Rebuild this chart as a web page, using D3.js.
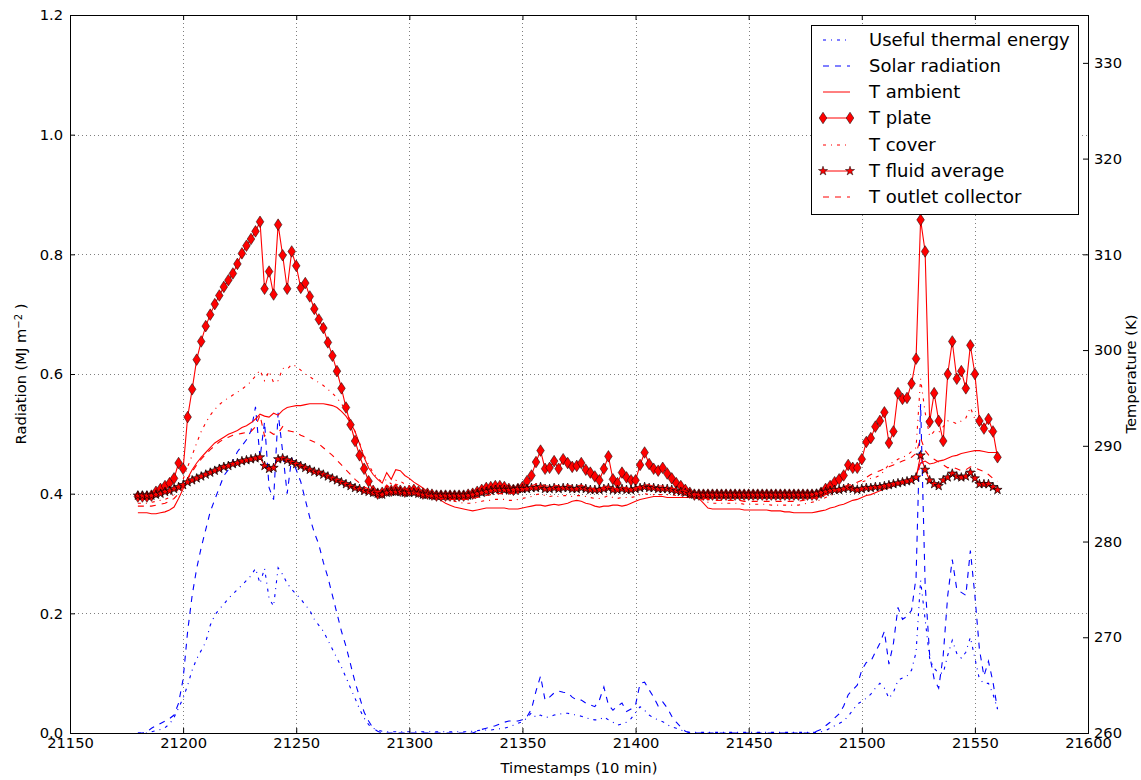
<!DOCTYPE html>
<html>
<head>
<meta charset="utf-8">
<script src="https://cdn.jsdelivr.net/npm/d3@7"></script>
<style>
  body { margin: 0; background: #fff; }
  svg text { font-family: "DejaVu Sans", sans-serif; fill: #000; }
</style>
</head>
<body>
<svg id="chart" width="1141" height="780"></svg>
<script>
// Sampling instants (10-minute timestamps, every second sample)
const timestamps = d3.range(21180, 21561, 2);

// Left axis series (MJ m-2)
const usefulEnergy = [
  0, 0, 0, 0.002, 0.004, 0.006, 0.009, 0.015, 0.026, 0.042,
  0.058, 0.08, 0.105, 0.124, 0.138, 0.152, 0.18, 0.197, 0.207, 0.215,
  0.225, 0.232, 0.24, 0.247, 0.255, 0.263, 0.275, 0.25, 0.275, 0.225,
  0.212, 0.276, 0.265, 0.25, 0.24, 0.232, 0.224, 0.214, 0.205, 0.19,
  0.18, 0.17, 0.155, 0.14, 0.125, 0.11, 0.093, 0.075, 0.058, 0.04,
  0.025, 0.014, 0.008, 0.005, 0.003, 0.002, 0.002, 0.002, 0.002, 0.002,
  0.002, 0.002, 0.002, 0.002, 0.002, 0.002, 0.002, 0.002, 0.002, 0.002,
  0.002, 0.002, 0.002, 0.002, 0.003, 0.004, 0.005, 0.005, 0.005, 0.006,
  0.007, 0.008, 0.01, 0.013, 0.016, 0.019, 0.025, 0.034, 0.026, 0.03,
  0.026, 0.027, 0.03, 0.031, 0.033, 0.033, 0.031, 0.03, 0.028, 0.026,
  0.023, 0.022, 0.022, 0.027, 0.022, 0.018, 0.013, 0.015, 0.018, 0.024,
  0.034, 0.044, 0.038, 0.03, 0.025, 0.022, 0.019, 0.014, 0.01, 0.008,
  0.005, 0.003, 0.001, 0.001, 0.001, 0.001, 0.001, 0.001, 0.001, 0.001,
  0.001, 0.001, 0.001, 0.001, 0.001, 0.001, 0.001, 0.001, 0.001, 0.001,
  0.001, 0.001, 0.001, 0.001, 0.001, 0.001, 0.001, 0.001, 0.001, 0.001,
  0.001, 0.002, 0.004, 0.008, 0.012, 0.016, 0.02, 0.028, 0.038, 0.048,
  0.053, 0.058, 0.065, 0.075, 0.083, 0.075, 0.058, 0.068, 0.088, 0.092,
  0.095, 0.105, 0.135, 0.255, 0.19, 0.125, 0.108, 0.1, 0.1, 0.13,
  0.155, 0.133, 0.125, 0.135, 0.16, 0.125, 0.09, 0.083, 0.083, 0.065,
  0.04
];

const solarRadiation = [
  0, 0, 0.002, 0.008, 0.012, 0.016, 0.02, 0.024, 0.03, 0.05,
  0.09, 0.17, 0.23, 0.275, 0.31, 0.34, 0.37, 0.39, 0.41, 0.43,
  0.44, 0.455, 0.47, 0.48, 0.49, 0.505, 0.545, 0.46, 0.52, 0.41,
  0.39, 0.535, 0.47, 0.40, 0.46, 0.44, 0.42, 0.39, 0.36, 0.335,
  0.315, 0.285, 0.26, 0.23, 0.20, 0.17, 0.145, 0.115, 0.085, 0.06,
  0.035, 0.02, 0.008, 0.003, 0, 0, 0, 0, 0, 0,
  0, 0, 0, 0, 0, 0, 0, 0, 0, 0,
  0, 0, 0, 0, 0, 0.003, 0.006, 0.008, 0.01, 0.012,
  0.015, 0.018, 0.02, 0.02, 0.02, 0.022, 0.027, 0.04, 0.07, 0.095,
  0.055, 0.06, 0.067, 0.07, 0.068, 0.067, 0.06, 0.055, 0.055, 0.05,
  0.047, 0.044, 0.055, 0.077, 0.047, 0.038, 0.045, 0.05, 0.036, 0.04,
  0.047, 0.083, 0.085, 0.072, 0.06, 0.045, 0.052, 0.042, 0.028, 0.018,
  0.01, 0.003, 0, 0, 0, 0, 0, 0, 0, 0,
  0, 0, 0, 0, 0, 0, 0, 0, 0, 0,
  0, 0, 0, 0, 0, 0, 0, 0, 0, 0,
  0.003, 0.006, 0.012, 0.018, 0.025, 0.032, 0.045, 0.064, 0.072, 0.08,
  0.105, 0.118, 0.12, 0.135, 0.15, 0.17, 0.115, 0.15, 0.21, 0.19,
  0.195, 0.205, 0.26, 0.55, 0.25, 0.13, 0.09, 0.075, 0.13, 0.23,
  0.29, 0.24, 0.235, 0.23, 0.305, 0.23, 0.14, 0.095, 0.12, 0.085,
  0.04
];

// Right axis series (K)
const tAmbient = [
  283.0, 283.0, 283.0, 282.9, 282.9, 283.0, 283.1, 283.3, 283.6, 284.5,
  285.5, 286.6, 287.5, 288.2, 288.8, 289.3, 289.8, 290.3, 290.6, 290.9,
  291.2, 291.4, 291.6, 291.9, 292.1, 292.4, 292.8, 293.3, 293.1, 293.0,
  293.4, 293.2, 293.7, 294.0, 294.1, 294.2, 294.2, 294.3, 294.4, 294.4,
  294.4, 294.4, 294.3, 294.2, 294.0, 293.6, 293.1, 292.4, 291.5, 290.2,
  288.8, 287.7, 287.0, 286.5, 286.1, 287.2, 286.5, 287.5, 287.4, 286.9,
  286.6, 286.2, 285.9, 285.6, 285.2, 284.9, 284.6, 284.3, 284.0, 283.8,
  283.6, 283.5, 283.4, 283.3, 283.2, 283.3, 283.4, 283.5, 283.5, 283.5,
  283.5, 283.5, 283.4, 283.4, 283.4, 283.5, 283.6, 283.7, 283.8, 283.8,
  283.7, 283.8, 283.9, 283.8, 283.9, 284.0, 284.2, 284.3, 284.2, 284.0,
  283.9, 283.7, 283.6, 283.7, 283.7, 283.8, 283.8, 283.7, 283.8, 284.0,
  284.2, 284.4, 284.5, 284.6, 284.7, 284.7, 284.7, 284.6, 284.6, 284.6,
  284.6, 284.6, 284.6, 284.6, 284.5, 284.0, 283.5, 283.4, 283.4, 283.4,
  283.4, 283.4, 283.4, 283.4, 283.3, 283.3, 283.3, 283.3, 283.3, 283.3,
  283.2, 283.2, 283.2, 283.1, 283.1, 283.0, 283.0, 283.0, 283.0, 283.0,
  283.1, 283.2, 283.3, 283.5, 283.6, 283.8, 283.9, 284.1, 284.3, 284.4,
  284.6, 284.8, 284.9, 285.1, 285.3, 285.5, 285.6, 285.8, 286.0, 286.2,
  286.4, 286.6, 286.9, 288.2, 288.4, 288.1, 288.2, 288.4, 288.5, 288.7,
  288.9, 289.0, 289.2, 289.3, 289.4, 289.5, 289.5, 289.4, 289.3, 289.3,
  289.3
];

const tPlate = [
  284.7, 284.7, 284.7, 284.8, 285.2, 285.5, 285.8, 286.1, 286.6, 288.2,
  287.6, 293.0, 295.9, 299.0, 300.9, 302.5, 303.7, 304.8, 305.7, 306.6,
  307.3, 308.0, 309.0, 310.1, 310.9, 311.6, 312.4, 313.4, 306.4, 308.2,
  305.8, 313.1, 309.9, 306.4, 310.3, 308.8, 306.5, 307.0, 305.6, 304.3,
  303.2, 302.3, 300.8, 299.4, 297.8, 296.0, 294.0, 292.2, 290.5, 289.0,
  287.6, 286.3, 285.3, 285.0, 285.1, 285.3, 285.3, 285.4, 285.3, 285.2,
  285.3, 285.4, 285.2, 285.0, 285.0, 284.9, 284.8, 284.8, 284.8, 284.8,
  284.8, 284.8, 284.8, 284.9, 285.0, 285.2, 285.4, 285.6, 285.7, 285.8,
  285.8, 285.7, 285.5, 285.4, 285.5, 285.7, 286.3, 286.9, 288.3, 289.5,
  287.6, 287.7, 288.4, 287.6, 288.6, 288.2, 287.8, 287.9, 288.2, 287.5,
  287.2, 286.8, 286.4, 287.6, 288.9, 286.5, 286.1, 287.2, 286.7, 286.4,
  286.4, 288.0, 289.3, 288.1, 287.6, 287.4, 287.7, 287.1, 286.6, 286.1,
  285.8, 285.4, 285.1, 284.9, 284.9, 284.9, 284.9, 284.9, 284.9, 284.9,
  284.9, 284.9, 284.9, 284.9, 284.9, 284.9, 284.9, 284.9, 284.9, 284.9,
  284.9, 284.9, 284.9, 284.9, 284.9, 284.9, 284.9, 284.9, 284.9, 284.9,
  284.9, 285.1, 285.5, 285.8, 286.2, 286.5, 286.9, 288.0, 287.7, 287.7,
  288.6, 290.4, 290.8, 292.0, 292.6, 293.5, 290.3, 291.5, 295.5, 294.9,
  295.0, 296.5, 299.1, 313.6, 310.3, 292.5, 295.5, 292.6, 290.5, 297.5,
  300.9, 297.0, 297.8, 296.0, 300.5, 297.5, 292.6, 291.8, 292.8, 291.5,
  288.8
];

const tCover = [
  284.0, 284.0, 284.0, 284.1, 284.2, 284.3, 284.4, 284.6, 284.9, 285.5,
  286.5, 287.8, 289.0, 290.3, 291.5, 292.4, 293.2, 293.8, 294.3, 294.7,
  295.0, 295.3, 295.6, 295.9, 296.3, 296.7, 297.3, 297.9, 296.8, 297.8,
  296.6, 296.8, 298.1, 298.0, 298.5, 298.3, 297.9, 297.5, 297.2, 296.9,
  296.6, 296.3, 295.9, 295.5, 295.0, 294.4, 293.6, 292.6, 291.5, 290.3,
  289.0, 288.0, 287.2, 286.6, 286.2, 286.5, 286.0, 286.4, 286.3, 286.0,
  285.8, 285.6, 285.4, 285.2, 285.0, 284.9, 284.7, 284.5, 284.4, 284.3,
  284.2, 284.1, 284.0, 284.0, 284.0, 284.1, 284.2, 284.3, 284.3, 284.4,
  284.4, 284.4, 284.3, 284.3, 284.4, 284.5, 284.6, 284.7, 284.9, 285.0,
  284.8, 284.7, 284.8, 284.7, 284.8, 284.8, 284.7, 284.8, 284.8, 284.7,
  284.6, 284.5, 284.5, 284.6, 284.8, 284.6, 284.5, 284.6, 284.6, 284.6,
  284.7, 284.9, 285.0, 284.9, 284.9, 284.9, 284.9, 284.9, 284.9, 284.8,
  284.8, 284.8, 284.7, 284.7, 284.6, 284.3, 284.1, 284.0, 284.0, 284.0,
  284.0, 284.0, 284.0, 284.0, 283.9, 283.9, 283.9, 283.9, 283.9, 283.9,
  283.8, 283.8, 283.8, 283.8, 283.8, 283.8, 283.8, 283.9, 284.0, 284.1,
  284.2, 284.4, 284.6, 284.8, 285.0, 285.2, 285.4, 285.7, 285.9, 286.0,
  286.2, 286.4, 286.6, 286.7, 286.9, 287.4, 288.1, 288.3, 288.6, 288.8,
  289.0, 289.4, 289.8, 297.0, 293.5, 291.0, 291.5, 291.4, 292.0, 292.6,
  292.5, 292.3, 292.6, 292.9, 294.0, 292.8, 292.3, 291.9, 291.6, 291.0,
  290.5
];

const tFluid = [
  284.8, 284.8, 284.8, 284.8, 284.9, 285.0, 285.2, 285.3, 285.5, 285.7,
  285.9, 286.2, 286.4, 286.6, 286.8, 287.0, 287.2, 287.4, 287.6, 287.8,
  287.9, 288.1, 288.2, 288.4, 288.5, 288.6, 288.7, 288.8, 287.9, 287.6,
  287.7, 288.6, 288.7, 288.5, 288.3, 288.1, 287.9, 287.7, 287.5, 287.3,
  287.2, 287.0, 286.8, 286.6, 286.4, 286.2, 286.0, 285.8, 285.6, 285.5,
  285.3, 285.2, 285.1, 285.0, 284.9, 285.1, 285.2, 285.2, 285.2, 285.1,
  285.1, 285.1, 285.0, 284.9, 284.9, 284.8, 284.8, 284.8, 284.8, 284.8,
  284.8, 284.8, 284.8, 284.8, 284.9, 285.0, 285.1, 285.2, 285.3, 285.4,
  285.4, 285.4, 285.4, 285.4, 285.5, 285.5, 285.5, 285.6, 285.6, 285.7,
  285.5, 285.5, 285.6, 285.5, 285.6, 285.6, 285.5, 285.5, 285.6, 285.5,
  285.4, 285.4, 285.4, 285.5, 285.6, 285.4, 285.4, 285.5, 285.4, 285.4,
  285.5, 285.6, 285.7, 285.6, 285.6, 285.5, 285.5, 285.5, 285.4, 285.3,
  285.2, 285.1, 285.0, 284.9, 284.9, 284.9, 284.9, 284.9, 284.9, 284.9,
  284.9, 284.9, 284.9, 284.9, 284.9, 284.9, 284.9, 284.9, 284.9, 284.9,
  284.9, 284.9, 284.9, 284.9, 284.9, 284.9, 284.9, 284.9, 284.9, 284.9,
  285.0, 285.1, 285.2, 285.3, 285.4, 285.4, 285.5, 285.6, 285.5, 285.4,
  285.5, 285.6, 285.6, 285.7, 285.7, 285.8, 285.9, 286.0, 286.1, 286.2,
  286.3, 286.4, 286.7, 289.0, 287.5, 286.4, 286.0, 285.8, 286.4, 286.7,
  287.1, 286.8, 286.7, 286.8, 287.2, 286.6, 286.0, 286.0, 286.0, 285.7,
  285.4
];

const tOutlet = [
  283.7, 283.7, 283.7, 283.7, 283.8, 283.9, 284.0, 284.2, 284.5, 285.0,
  285.7, 286.5, 287.3, 288.0, 288.6, 289.1, 289.6, 290.0, 290.4, 290.7,
  290.9, 291.1, 291.2, 291.3, 291.4, 291.5, 292.0, 293.2, 291.0, 291.5,
  291.2, 291.3, 292.0, 291.6, 291.5, 291.4, 291.1, 290.9, 290.6, 290.4,
  290.2, 289.8, 289.4, 289.0, 288.5, 288.0, 287.5, 287.0, 286.5, 286.1,
  285.7, 285.5, 285.3, 285.2, 285.3, 285.9, 285.5, 286.0, 285.8, 285.5,
  285.3, 285.1, 285.0, 284.9, 284.8, 284.7, 284.6, 284.5, 284.5, 284.4,
  284.4, 284.4, 284.4, 284.4, 284.5, 284.6, 284.7, 284.8, 284.9, 285.0,
  285.0, 285.0, 285.0, 285.1, 285.2, 285.4, 285.6, 285.8, 286.0, 286.1,
  285.8, 285.8, 285.9, 285.8, 285.9, 285.9, 285.8, 285.8, 285.9, 285.7,
  285.6, 285.5, 285.5, 285.7, 285.9, 285.6, 285.5, 285.6, 285.6, 285.5,
  285.6, 285.8, 286.0, 285.9, 285.8, 285.8, 285.8, 285.7, 285.6, 285.5,
  285.4, 285.3, 285.1, 285.0, 284.9, 284.6, 284.4, 284.3, 284.3, 284.3,
  284.3, 284.3, 284.3, 284.3, 284.2, 284.2, 284.2, 284.2, 284.2, 284.2,
  284.2, 284.2, 284.2, 284.2, 284.2, 284.2, 284.2, 284.3, 284.4, 284.5,
  284.6, 284.7, 284.9, 285.1, 285.3, 285.5, 285.7, 285.9, 286.0, 286.2,
  286.4, 286.7, 287.0, 287.2, 287.4, 287.6, 287.8, 288.0, 288.2, 288.4,
  288.6, 288.8, 289.2, 290.8, 289.5, 288.9, 288.6, 288.3, 288.0, 287.7,
  287.8, 287.6, 287.4, 287.5, 287.8, 287.7, 287.5, 287.3, 287.0, 286.6,
  286.3
];

// Tick values
const xTicks = d3.range(21150, 21601, 50);
const radTicks = [0, 0.2, 0.4, 0.6, 0.8, 1.0, 1.2];
const tempTicks = d3.range(260, 331, 10);

// Series styling
const radSeries = [
  { name: "Useful thermal energy", values: usefulEnergy, color: "#0000ff", dash: "3,5,1,5" },
  { name: "Solar radiation", values: solarRadiation, color: "#0000ff", dash: "6,6" }
];
const tempSeries = [
  { name: "T ambient", values: tAmbient, color: "#ff0000", dash: null },
  { name: "T plate", values: tPlate, color: "#ff0000", dash: null, marker: "diamond" },
  { name: "T cover", values: tCover, color: "#ff0000", dash: "3,5,1,5" },
  { name: "T fluid average", values: tFluid, color: "#ff0000", dash: null, marker: "star" },
  { name: "T outlet collector", values: tOutlet, color: "#ff0000", dash: "6,6" }
];

[...radSeries, ...tempSeries].forEach(s => {
  if (s.values.length !== timestamps.length) throw new Error(s.name + " has " + s.values.length + " values");
});

const X0 = 70, X1 = 1088, Y0 = 733, Y1 = 15;
const x = d3.scaleLinear().domain([21150, 21600]).range([X0, X1]);
const yRad = d3.scaleLinear().domain([0, 1.2]).range([Y0, Y1]);
const yTemp = d3.scaleLinear().domain([260, 335]).range([Y0, Y1]);

const svg = d3.select("#chart");

svg.append("defs").append("clipPath").attr("id", "plotClip")
  .append("rect").attr("x", X0).attr("y", Y1).attr("width", X1 - X0).attr("height", Y0 - Y1);

// Grid (bottom and left axes)
const grid = svg.append("g")
  .attr("stroke", "#000").attr("stroke-width", 0.5)
  .attr("stroke-dasharray", "1,3").attr("shape-rendering", "crispEdges");
grid.selectAll(".gx").data(xTicks).join("line")
  .attr("x1", d => Math.round(x(d)) + 0.5).attr("x2", d => Math.round(x(d)) + 0.5)
  .attr("y1", Y1).attr("y2", Y0);
grid.selectAll(".gy").data(radTicks).join("line")
  .attr("y1", d => Math.round(yRad(d)) + 0.5).attr("y2", d => Math.round(yRad(d)) + 0.5)
  .attr("x1", X0).attr("x2", X1);

const plot = svg.append("g").attr("clip-path", "url(#plotClip)");

const diamondPath = "M0,-5.8L3.8,0L0,5.8L-3.8,0Z";
const starPath = d3.symbol(d3.symbolStar, 26)();

function drawSeries(s, yScale) {
  const line = d3.line().x((d, i) => x(timestamps[i])).y(d => yScale(d));
  plot.append("path").datum(s.values)
    .attr("fill", "none").attr("stroke", s.color).attr("stroke-width", 1.1)
    .attr("stroke-dasharray", s.dash).attr("d", line);
  if (s.marker) {
    plot.append("g").selectAll("path").data(s.values).join("path")
      .attr("transform", (d, i) => `translate(${x(timestamps[i])},${yScale(d)})`)
      .attr("d", s.marker === "diamond" ? diamondPath : starPath)
      .attr("fill", s.color).attr("stroke", "#000").attr("stroke-width", s.marker === "star" ? 0.7 : 0.5);
  }
}
radSeries.forEach(s => drawSeries(s, yRad));
tempSeries.forEach(s => drawSeries(s, yTemp));

// Axes with inward ticks
const fontSize = "14.7px";
const gx = svg.append("g").attr("transform", `translate(0,${Y0})`)
  .call(d3.axisBottom(x).tickValues(xTicks).tickSize(-5).tickPadding(5).tickFormat(d3.format("d")));
const gxTop = svg.append("g").attr("transform", `translate(0,${Y1})`)
  .call(d3.axisTop(x).tickValues(xTicks).tickSize(-5).tickFormat(""));
const gyL = svg.append("g").attr("transform", `translate(${X0},0)`)
  .call(d3.axisLeft(yRad).tickValues(radTicks).tickSize(-5).tickPadding(7).tickFormat(d3.format(".1f")));
const gyR = svg.append("g").attr("transform", `translate(${X1},0)`)
  .call(d3.axisRight(yTemp).tickValues(tempTicks).tickSize(-5).tickPadding(6).tickFormat(d3.format("d")));
[gx, gxTop, gyL, gyR].forEach(g => {
  g.select(".domain").remove();
  g.selectAll("line").attr("stroke", "#000");
  g.selectAll("text").style("font-size", fontSize).attr("fill", "#000");
});

// Frame
svg.append("rect").attr("x", X0 + 0.5).attr("y", Y1 + 0.5)
  .attr("width", X1 - X0).attr("height", Y0 - Y1)
  .attr("fill", "none").attr("stroke", "#000").attr("stroke-width", 1);

// Axis titles
svg.append("text").attr("x", (X0 + X1) / 2).attr("y", 773)
  .attr("text-anchor", "middle").style("font-size", fontSize).text("Timestamps (10 min)");

const yl = svg.append("text").attr("transform", `translate(26,${(Y0 + Y1) / 2}) rotate(-90)`)
  .attr("text-anchor", "middle").style("font-size", fontSize);
yl.append("tspan").text("Radiation (MJ m");
yl.append("tspan").attr("dy", "-0.45em").style("font-size", "10px").text("\u22122");
yl.append("tspan").attr("dy", "0.3em").text(" )");

svg.append("text").attr("transform", `translate(1136,${(Y0 + Y1) / 2}) rotate(-90)`)
  .attr("text-anchor", "middle").style("font-size", fontSize).text("Temperature (K)");

// Legend
const legendItems = [...radSeries, ...tempSeries];
const lg = svg.append("g").attr("transform", "translate(811,25)");
lg.append("rect").attr("x", 0.5).attr("y", 0.5).attr("width", 267).attr("height", 189)
  .attr("fill", "#fff").attr("stroke", "#000").attr("stroke-width", 1);
legendItems.forEach((s, i) => {
  const cy = Math.round(14.5 + i * 26.3);
  const row = lg.append("g").attr("transform", `translate(0,${cy})`);
  row.append("line").attr("x1", 12).attr("x2", 39).attr("y1", 0).attr("y2", 0)
    .attr("stroke", s.color).attr("stroke-width", 1).attr("stroke-dasharray", s.dash);
  if (s.marker) {
    [12, 39].forEach(mx => row.append("path")
      .attr("transform", `translate(${mx},0)`)
      .attr("d", s.marker === "diamond" ? diamondPath : starPath)
      .attr("fill", s.color).attr("stroke", "#000").attr("stroke-width", 0.5));
  }
  row.append("text").attr("x", 58).attr("y", 0).attr("dy", "0.35em")
    .style("font-size", "18px").text(s.name);
});
</script>
</body>
</html>
